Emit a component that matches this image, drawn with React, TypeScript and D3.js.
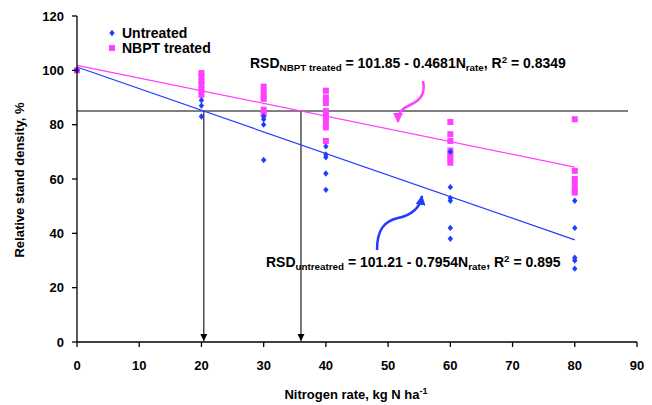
import React from "react";
import * as d3 from "d3";

const xTicks = [0, 10, 20, 30, 40, 50, 60, 70, 80, 90];
const yTicks = [0, 20, 40, 60, 80, 100, 120];

const untreatedN = [0, 20, 20, 20, 30, 30, 30, 30, 40, 40, 40, 40, 40, 60, 60, 60, 60, 60, 60, 80, 80, 80, 80, 80];
const untreatedRSD = [100, 89, 87, 83, 83, 82, 80, 67, 72, 69, 68, 62, 56, 70, 57, 53, 52, 42, 38, 52, 42, 31, 30, 27];

const treatedN = [0, 20, 20, 20, 20, 20, 20, 30, 30, 30, 30, 30, 30, 40, 40, 40, 40, 40, 40, 40, 40, 60, 60, 60, 60, 60, 60, 60, 80, 80, 80, 80, 80, 80];
const treatedRSD = [100, 99, 97.5, 96, 94.5, 93, 91, 94, 92.5, 90.5, 89.5, 85.5, 84, 92.5, 90, 88, 85, 83, 81, 79, 74, 81, 76.5, 74, 70.5, 69, 67.5, 66, 82, 63, 60, 58, 56, 55];

const untreatedFit = [101.21, -0.7954];
const treatedFit = [101.85, -0.4681];
const fitRange = [0, 80];
const threshold = 85;

const BLUE = "#1f3cff";
const PINK = "#ff40ff";
const FONT = "'Liberation Sans', Arial, sans-serif";

const DIAMOND = "M0,-3.2L2.7,0L0,3.2L-2.7,0Z";

export default function App() {
  const x = d3.scaleLinear().domain([0, 90]).range([77, 637]);
  const y = d3.scaleLinear().domain([0, 120]).range([342, 16]);

  const fitLine = (fit: number[]) =>
    d3
      .line<number>()
      .x((d) => x(d))
      .y((d) => y(fit[0] + fit[1] * d))(fitRange);

  const crossU = (untreatedFit[0] - threshold) / -untreatedFit[1];
  const crossT = (treatedFit[0] - threshold) / -treatedFit[1];

  return (
    <svg width={652} height={405} style={{ display: "block", position: "absolute", left: 0, top: 0 }} fontFamily={FONT}>
      <defs>
        <marker id="blk" viewBox="0 0 10 10" refX="10" refY="5" markerWidth="7" markerHeight="10" markerUnits="userSpaceOnUse" orient="auto">
          <path d="M0,0 L10,5 L0,10 Z" fill="#000" />
        </marker>
        <marker id="bl" viewBox="0 0 10 10" refX="9" refY="5" markerWidth="4" markerHeight="4" orient="auto">
          <path d="M0,0 L10,5 L0,10 Z" fill={BLUE} />
        </marker>
        <marker id="pk" viewBox="0 0 10 10" refX="9" refY="5" markerWidth="4" markerHeight="4" orient="auto">
          <path d="M0,0 L10,5 L0,10 Z" fill={PINK} />
        </marker>
      </defs>
      <rect width={652} height={405} fill="#fff" />

      {/* threshold line */}
      <line x1={x(0)} x2={628} y1={y(threshold)} y2={y(threshold)} stroke="#555" strokeWidth={1.5} />
      {/* vertical arrows */}
      {[crossU, crossT].map((c, i) => (
        <line key={i} x1={x(c)} x2={x(c)} y1={y(threshold)} y2={y(0) - 1} stroke="#222" strokeWidth={1.2} markerEnd="url(#blk)" />
      ))}

      {/* fit lines */}
      <path d={fitLine(treatedFit) || ""} stroke={PINK} strokeWidth={1.2} fill="none" />
      <path d={fitLine(untreatedFit) || ""} stroke={BLUE} strokeWidth={1.2} fill="none" />

      {/* points */}
      {treatedN.map((n, i) => (
        <rect key={"t" + i} x={x(n) - 3} y={y(treatedRSD[i]) - 3} width={6} height={6} fill={PINK} />
      ))}
      {untreatedN.map((n, i) => (
        <path key={"u" + i} d={DIAMOND} transform={`translate(${x(n)},${y(untreatedRSD[i])})`} fill={BLUE} />
      ))}

      {/* axes */}
      <line x1={x(0)} x2={x(0)} y1={y(0)} y2={y(120)} stroke="#000" strokeWidth={1.3} />
      <line x1={x(0)} x2={x(90)} y1={y(0)} y2={y(0)} stroke="#000" strokeWidth={1.3} />
      {yTicks.map((t) => (
        <g key={"y" + t}>
          <line x1={x(0) - 5} x2={x(0)} y1={y(t)} y2={y(t)} stroke="#000" strokeWidth={1.3} />
          <text x={64} y={y(t)} dy="0.35em" textAnchor="end" fontSize={13} fontWeight="bold">
            {t}
          </text>
        </g>
      ))}
      {xTicks.map((t) => (
        <g key={"x" + t}>
          <line x1={x(t)} x2={x(t)} y1={y(0)} y2={y(0) + 5} stroke="#000" strokeWidth={1.3} />
          <text x={x(t)} y={365} dy="0.35em" textAnchor="middle" fontSize={13} fontWeight="bold">
            {t}
          </text>
        </g>
      ))}

      {/* axis titles */}
      <text transform="translate(24,180) rotate(-90)" textAnchor="middle" fontSize={13} fontWeight="bold">
        Relative stand density, %
      </text>
      <text x={356} y={399} textAnchor="middle" fontSize={13} fontWeight="bold">
        Nitrogen rate, kg N ha
        <tspan fontSize={9} dy={-5}>-1</tspan>
      </text>

      {/* legend */}
      <path d={DIAMOND} transform="translate(112,33)" fill={BLUE} />
      <text x={122} y={38} fontSize={14} fontWeight="bold">Untreated</text>
      <rect x={109} y={45} width={6} height={6} fill={PINK} />
      <text x={122} y={53} fontSize={14} fontWeight="bold">NBPT treated</text>

      {/* equations */}
      <text x={250} y={68} fontSize={14} fontWeight="bold">
        RSD<tspan fontSize={9.8} dy={3}>NBPT treated</tspan>
        <tspan dy={-3}> = 101.85 - 0.4681N</tspan>
        <tspan fontSize={9.8} dy={3}>rate</tspan>
        <tspan dy={-3}>, R</tspan>
        <tspan fontSize={9.8} dy={-5}>2</tspan>
        <tspan dy={5}> = 0.8349</tspan>
      </text>
      <text x={266} y={267} fontSize={14} fontWeight="bold">
        RSD<tspan fontSize={9.8} dy={3}>untreatred</tspan>
        <tspan dy={-3}> = 101.21 - 0.7954N</tspan>
        <tspan fontSize={9.8} dy={3}>rate</tspan>
        <tspan dy={-3}>, R</tspan>
        <tspan fontSize={9.8} dy={-5}>2</tspan>
        <tspan dy={5}> = 0.895</tspan>
      </text>

      {/* curved pointer arrows */}
      <path d="M423,81 C426,95 419,101 410,105 S398,113 398,122" stroke={PINK} strokeWidth={2.5} fill="none" markerEnd="url(#pk)" />
      <path d="M377,250 C377,230 384,221 398,218 S420,208 422,196" stroke={BLUE} strokeWidth={2.5} fill="none" markerEnd="url(#bl)" />
    </svg>
  );
}
